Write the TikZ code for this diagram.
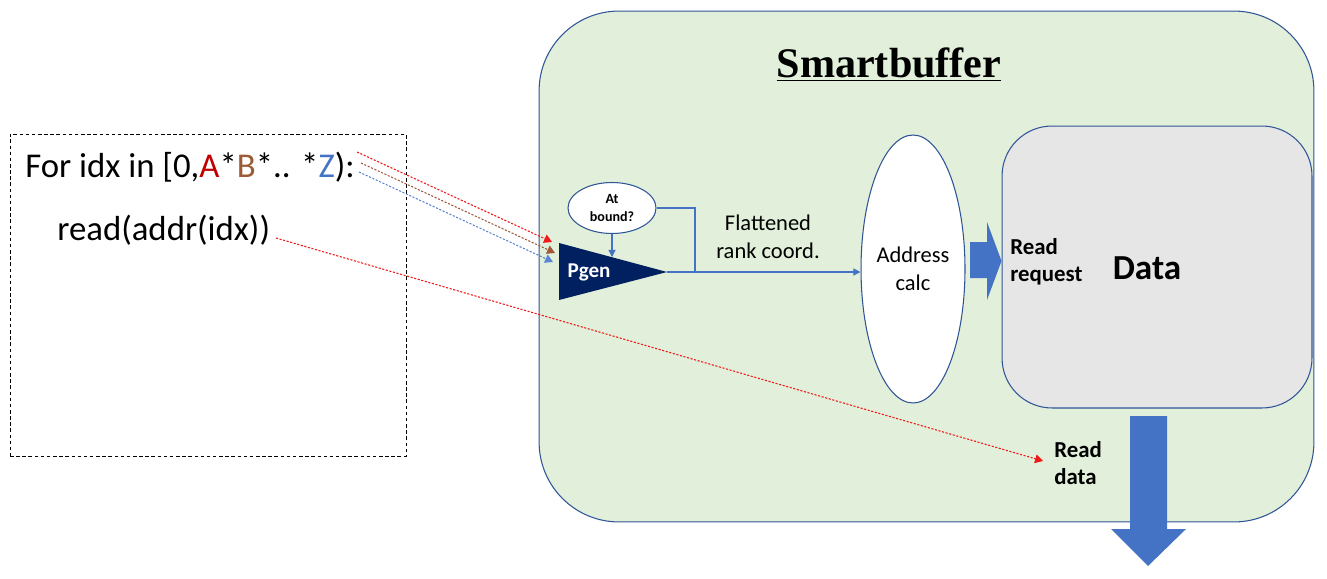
\documentclass[tikz,border=0pt]{standalone}
\usepackage{fontspec}
\setmainfont{Carlito}
\newfontfamily\titlefont{Liberation Serif}
\usetikzlibrary{arrows.meta, positioning, shapes.geometric, calc}
\definecolor{sbgreen}{HTML}{E2EFDA}
\definecolor{sbline}{HTML}{2F5597}
\definecolor{datagray}{HTML}{E7E6E6}
\definecolor{pgennavy}{HTML}{002060}
\definecolor{arrowblue}{HTML}{4472C4}
\definecolor{dimred}{HTML}{C00000}
\definecolor{dimbrown}{HTML}{9C5B34}
\definecolor{hintred}{HTML}{F01818}
\definecolor{hintbrown}{HTML}{A0583A}
\definecolor{hintblue}{HTML}{5A85D0}
\tikzset{
    sbbox/.style={draw=sbline, line width=0.6pt},
    flow/.style={draw=arrowblue, line width=0.6pt, -{Triangle[width=4pt, length=4pt]}},
    hint/.style={line width=0.6pt, dash pattern=on 1.2pt off 0.9pt, -{Triangle[width=5pt, length=4.5pt]}},
    codetext/.style={anchor=base west, inner sep=0pt, font=\fontsize{19.8}{23}\selectfont},
    lbl/.style={font=\fontsize{12.8}{16}\selectfont, align=center, inner sep=0pt},
    boldlbl/.style={lbl, font=\bfseries\fontsize{13}{15.3}\selectfont, align=left},
}
\begin{document}
\begin{tikzpicture}[x=0.02cm, y=-0.02cm]
    \useasboundingbox (0,0) rectangle (1327,578);

    \node[draw, dash pattern=on 2pt off 1.5pt, line width=0.5pt, minimum width=7.92cm, minimum height=6.44cm] (loop) at (208,295) {};
    \node[codetext] (forline) at (25,177) {For idx in [0,\textcolor{dimred}{A}*\textcolor{dimbrown}{B}*.. *\textcolor{arrowblue}{Z}):};
    \node[codetext] (readline) at (57,240) {read(addr(idx))};

    \node[sbbox, fill=sbgreen, rounded corners=1.6cm, minimum width=15.5cm, minimum height=10.22cm] (buffer) at (926.5,266.5) {};
    \node[anchor=base, inner sep=0pt, font=\titlefont\bfseries\fontsize{24}{28}\selectfont] (title) at (889,77) {\underline{Smartbuffer}};

    \node[sbbox, fill=datagray, rounded corners=1cm, minimum width=6.2cm, minimum height=5.64cm] (data) at (1157,267) {};
    \node[font=\bfseries\fontsize{20}{24}\selectfont, inner sep=0pt] (datalbl) at (1147,268) {Data};

    \node[sbbox, fill=white, ellipse, lbl, minimum width=2.08cm, minimum height=5.36cm] (addr) at (913,269) {Address\\calc};
    \fill[arrowblue] (970,242) -- (987,242) -- (987,222) -- (data.west |- 0,261) -- (987,300) -- (987,278) -- (970,278) -- cycle;
    \node[boldlbl, anchor=west] (req) at (1010,262) {Read\\request};

    \coordinate (pgentop) at (559,243);
    \coordinate (pgenbot) at (559,300);
    \coordinate (pgentip) at (667,272);
    \coordinate (pgenedge) at (612,257);
    \coordinate (joint) at (695,272);
    \fill[pgennavy] (pgentop) -- (pgentip) -- (pgenbot) -- cycle;
    \node[font=\bfseries\fontsize{12}{14}\selectfont, text=white, inner sep=0pt] (pgen) at (589,272) {Pgen};

    \node[sbbox, fill=white, ellipse, minimum width=1.76cm, minimum height=1.02cm, font=\bfseries\fontsize{8}{10.2}\selectfont, align=center, inner sep=0pt] (bound) at (612,208) {At\\bound?};
    \draw[flow] (bound.south) -- (pgenedge);
    \draw[arrowblue, line width=0.6pt] (bound.east) -| (joint);
    \draw[flow] (pgentip) -- (pgentip -| addr.west);
    \node[lbl] (flat) at (768,237) {Flattened\\rank coord.};

    \coordinate (dimA) at (357,152);
    \coordinate (dimB) at (361,163);
    \coordinate (dimZ) at (359,172);
    \coordinate (pgenA) at (552,242);
    \coordinate (pgenB) at (555,253);
    \coordinate (pgenZ) at (553,262);
    \draw[hint, hintred] (dimA) -- (pgenA);
    \draw[hint, hintbrown] (dimB) -- (pgenB);
    \draw[hint, hintblue] (dimZ) -- (pgenZ);

    \coordinate (readend) at (276,238);
    \coordinate (dataend) at (1043,461);
    \draw[hint, hintred] (readend) -- (dataend);
    \node[boldlbl, anchor=west] (rdata) at (1054,463) {Read\\data};

    \fill[arrowblue] (1130,416) -- (1167,416) -- (1167,529) -- (1186,529) -- (1148,566) -- (1111,529) -- (1130,529) -- cycle;
\end{tikzpicture}
\end{document}
